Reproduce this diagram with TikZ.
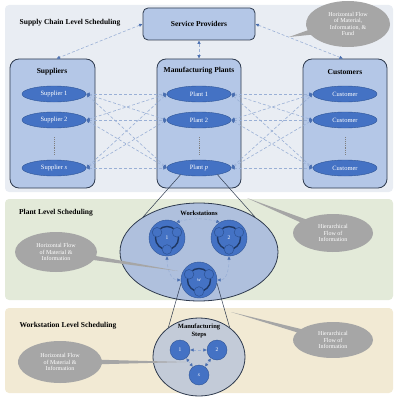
\documentclass[tikz,border=0pt]{standalone}
\usepackage{fontspec}
\setmainfont{Liberation Serif}
\usetikzlibrary{shapes.geometric,shapes.callouts,arrows.meta}
\definecolor{panelA}{HTML}{E9EDF3}
\definecolor{panelB}{HTML}{E3EAD9}
\definecolor{panelC}{HTML}{F2EAD4}
\definecolor{boxfill}{HTML}{B4C7E7}
\definecolor{boxline}{HTML}{2E3A4E}
\definecolor{nodeblue}{HTML}{4472C4}
\definecolor{nodeline}{HTML}{2F5597}
\definecolor{darkring}{HTML}{1F3864}
\definecolor{flowline}{HTML}{9AB0D6}
\definecolor{tipblue}{HTML}{4A6FB0}
\definecolor{bubblegray}{HTML}{A6A6A6}
\definecolor{stepfill}{HTML}{C3CBD8}
\tikzset{
  lvl/.style={font=\fontsize{7.5}{8}\selectfont\bfseries},
  group/.style={draw=boxline, fill=boxfill, rounded corners=9pt, line width=0.8pt},
  member/.style={ellipse, draw=nodeline, fill=nodeblue, text=white, minimum width=64pt,
    minimum height=16pt, inner sep=0pt, font=\fontsize{6.5}{7}\selectfont},
  flow/.style={{Latex[length=3.5pt,width=3.5pt,color=tipblue]}-{Latex[length=3.5pt,width=3.5pt,color=tipblue]},
    dash pattern=on 3pt off 2pt, draw=flowline, line width=0.6pt},
  bubble/.style={ellipse callout, fill=bubblegray, text=white, align=center, inner sep=0pt,
    callout pointer arc=12, font=\fontsize{6}{6.6}\selectfont},
  down/.style={draw=boxline, line width=0.5pt},
  station/.style={circle, draw=nodeline, fill=nodeblue, minimum size=36pt, inner sep=0pt,
    text=white, font=\fontsize{5.5}{6}\selectfont},
  stepnode/.style={circle, draw=nodeline, fill=nodeblue, minimum size=20pt, inner sep=0pt,
    text=white, font=\fontsize{5.5}{6}\selectfont}
}
\begin{document}
\begin{tikzpicture}[x=1pt, y=-1pt, >=latex]
\useasboundingbox (0,0) rectangle (400,404);
\fill[panelA, rounded corners=4pt] (5,5) rectangle (393,192);
\fill[panelB, rounded corners=4pt] (5,199) rectangle (393,300);
\fill[panelC, rounded corners=4pt] (5,308) rectangle (393,393);

\node[lvl] (lvlA) at (70,23) {Supply Chain Level Scheduling};
\node[lvl] (lvlB) at (56,213) {Plant Level Scheduling};
\node[lvl] (lvlC) at (68,326) {Workstation Level Scheduling};

\node[group, rounded corners=5pt, minimum width=112pt, minimum height=32pt, lvl] (sp) at (199,24) {Service Providers};
\node[group, minimum width=85pt, minimum height=129pt] (sup) at (52.5,123.5) {};
\node[group, minimum width=84pt, minimum height=129pt] (pla) at (199,123.5) {};
\node[group, minimum width=84pt, minimum height=129pt] (cus) at (345,123.5) {};
\node[lvl] (supT) at (52,72) {Suppliers};
\node[lvl] (plaT) at (199,71) {Manufacturing Plants};
\node[lvl] (cusT) at (345,72) {Customers};

\node[member] (s1) at (54,94) {Supplier 1};
\node[member] (s2) at (54,120) {Supplier 2};
\node[member] (s3) at (54,168) {Supplier \textit{s}};
\node[member] (p1) at (199,94) {Plant 1};
\node[member] (p2) at (199,120) {Plant 2};
\node[member] (p3) at (199,168) {Plant \textit{p}};
\node[member] (c1) at (345,94) {Customer};
\node[member] (c2) at (345,120) {Customer};
\node[member] (c3) at (345,168) {Customer};
\foreach \x in {54,199,345} \draw[gray, densely dotted, line width=0.9pt] (\x,137) -- (\x,155);

\foreach \a in {s1,s2,s3} \foreach \b in {p1,p2,p3} \draw[flow] (\a.east) -- (\b.west);
\foreach \a in {p1,p2,p3} \foreach \b in {c1,c2,c3} \draw[flow] (\a.east) -- (\b.west);
\draw[flow] (sp.west) -- ([xshift=4pt]sup.north);
\draw[flow] (sp.east) -- ([xshift=-2pt]cus.north);
\draw[flow] (sp.south) -- (pla.north);

% plant level
\node[ellipse, draw=boxline, fill=boxfill!90!gray, line width=0.8pt, minimum width=158pt, minimum height=98pt] (ws) at (199,252) {};
\node[font=\fontsize{6.5}{7}\selectfont\bfseries] (wsT) at (199,213) {Workstations};
\draw[down] (p3.200) -- (ws.148);
\draw[down] (p3.340) -- (ws.32);
\node[station] (w1) at (167,238) {};
\node[station] (w2) at (229,238) {};
\node[station] (w3) at (199,280) {};
\foreach \w/\t in {w1/1,w2/2,w3/\textit{w}} {
  \draw[darkring, line width=1.4pt] (\w.center) circle (11.5);
  \foreach \ang in {90,210,330}
    \filldraw[fill=nodeblue, draw=nodeline, line width=0.6pt] (\w.center) ++(\ang:11.5) circle (4.8);
  \node[text=white, font=\fontsize{5.5}{6}\selectfont] at (\w.center) {\t};
}
\draw[flow] (w1.60) to[bend left=15] (w2.120);
\draw[flow] (w1.south) to[out=-90, in=180] (w3.west);
\draw[flow] (w2.south) to[out=-90, in=0] (w3.east);

% workstation level
\node[ellipse, draw=boxline, fill=stepfill, line width=0.8pt, minimum width=92pt, minimum height=78pt] (steps) at (199,357) {};
\node[font=\fontsize{6.5}{7.5}\selectfont\bfseries, align=center] (stT) at (199,331) {Manufacturing\\Steps};
\draw[down] (w3.190) -- (steps.136);
\draw[down] (w3.350) -- (steps.44);
\node[stepnode] (st1) at (180,350) {1};
\node[stepnode] (st2) at (217,350) {2};
\node[stepnode] (st3) at (199,375) {\textit{s}};
\draw[flow] (st1) -- (st2);
\draw[flow] (st1) -- (st3);
\draw[flow] (st2) -- (st3);

% callouts
\node[bubble, minimum width=84pt, minimum height=46pt, callout absolute pointer={(289,37)}] (b1) at (348,24) {Horizontal Flow\\of Material,\\Information, \&\\Fund};
\node[bubble, minimum width=82pt, minimum height=40pt, callout absolute pointer={(178,271)}] (b2) at (56,252) {Horizontal Flow\\of Material \&\\Information};
\node[bubble, minimum width=80pt, minimum height=38pt, callout absolute pointer={(247,198)}] (b3) at (333,233) {Hierarchical\\Flow of\\Information};
\node[bubble, minimum width=84pt, minimum height=42pt, callout absolute pointer={(186,362)}] (b4) at (60,362) {Horizontal Flow\\of Material \&\\Information};
\node[bubble, minimum width=80pt, minimum height=36pt, callout absolute pointer={(231,312)}] (b5) at (333,340) {Hierarchical\\Flow of\\Information};
\end{tikzpicture}
\end{document}
